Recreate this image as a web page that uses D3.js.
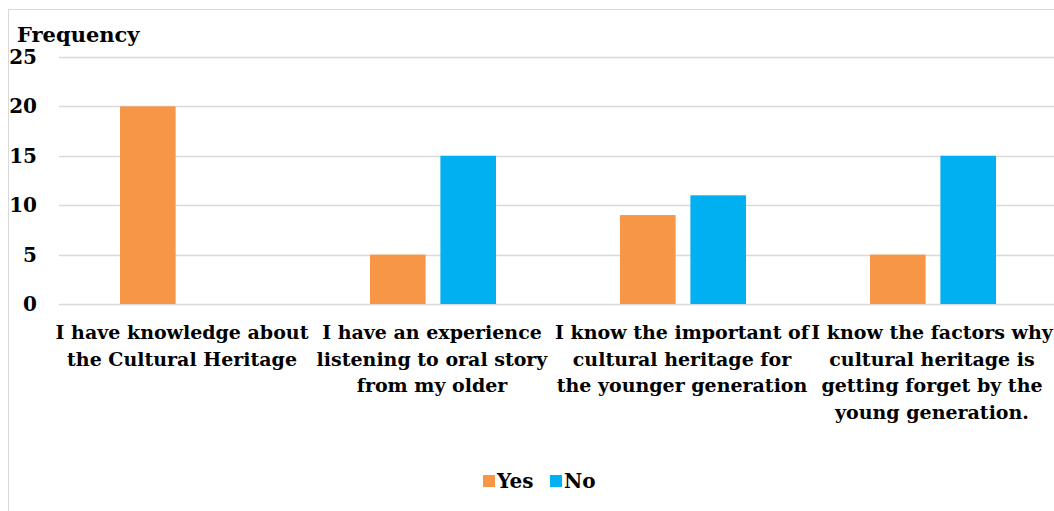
<!DOCTYPE html>
<html><head><meta charset="utf-8">
<script src="https://cdn.jsdelivr.net/npm/d3@7"></script>
<style>body{margin:0;background:#fff}svg{display:block}</style>
</head><body>
<script>
const categories = [
  ["I have knowledge about", "the Cultural Heritage"],
  ["I have an experience", "listening to oral story", "from my older"],
  ["I know the important of", "cultural heritage for", "the younger generation"],
  ["I know the factors why", "cultural heritage is", "getting forget by the", "young generation."]
];
const seriesNames = ["Yes", "No"];
const yesValues = [20, 5, 9, 5];
const noValues = [0, 15, 11, 15];
const yTicks = [0, 5, 10, 15, 20, 25];
const colors = ["#F79646", "#00B0F0"];

const W = 1054, H = 511;
const font = "'DejaVu Serif', serif";
const svg = d3.select("body").append("svg").attr("width", W).attr("height", H);
svg.append("rect").attr("x", 8.5).attr("y", 9.5).attr("width", W + 10).attr("height", H + 10)
  .attr("fill", "#fff").attr("stroke", "#D9D9D9");

const x0 = d3.scaleBand().domain(d3.range(categories.length)).range([57, 1057]).paddingInner(0).paddingOuter(0);
const x1 = d3.scaleBand().domain(seriesNames).range([63, 189]).paddingInner(0.21);
const y = d3.scaleLinear().domain([0, 25]).range([304, 57]);

const grid = svg.append("g");
grid.selectAll("line").data(yTicks).join("line")
  .attr("x1", 59).attr("x2", W).attr("y1", d => Math.round(y(d)) + 0.5).attr("y2", d => Math.round(y(d)) + 0.5)
  .attr("stroke", "#D9D9D9").attr("stroke-width", 1.5);

const yAxis = svg.append("g").attr("transform", "translate(37,0)")
  .call(d3.axisLeft(y).tickValues(yTicks).tickSize(0).tickPadding(0));
yAxis.select(".domain").remove();
yAxis.selectAll("text").attr("font-family", font).attr("font-weight", "bold").attr("font-size", 20).attr("fill", "#000");

svg.append("text").attr("x", 17).attr("y", 42).text("Frequency")
  .attr("font-family", font).attr("font-weight", "bold").attr("font-size", 21).attr("fill", "#000");

const data = categories.map((c, i) => [yesValues[i], noValues[i]]);
const groups = svg.append("g").selectAll("g").data(data).join("g")
  .attr("transform", (d, i) => `translate(${x0(i)},0)`);
groups.selectAll("rect").data(d => d.map((v, j) => ({v, s: seriesNames[j], j}))).join("rect")
  .attr("x", d => x1(d.s)).attr("width", x1.bandwidth())
  .attr("y", d => y(d.v)).attr("height", d => y(0) - y(d.v))
  .attr("fill", d => colors[d.j]);

const labels = svg.append("g").selectAll("text").data(categories).join("text")
  .attr("text-anchor", "middle").attr("font-family", font).attr("font-weight", "bold")
  .attr("font-size", 19).attr("fill", "#000")
  .attr("transform", (d, i) => `translate(${x0(i) + x0.bandwidth() / 2},339)`);
labels.selectAll("tspan").data(d => d).join("tspan")
  .attr("x", 0).attr("dy", (d, i) => i === 0 ? 0 : 26.5).text(d => d);

const legend = svg.append("g").attr("transform", "translate(483,0)");
const lg = legend.selectAll("g").data(seriesNames).join("g")
  .attr("transform", (d, i) => `translate(${i * 67},0)`);
lg.append("rect").attr("x", 0).attr("y", 475).attr("width", 12).attr("height", 12).attr("fill", (d, i) => colors[i]);
lg.append("text").attr("x", 14).attr("y", 488).text(d => d)
  .attr("font-family", font).attr("font-weight", "bold").attr("font-size", 20).attr("fill", "#000");
</script>
</body></html>
